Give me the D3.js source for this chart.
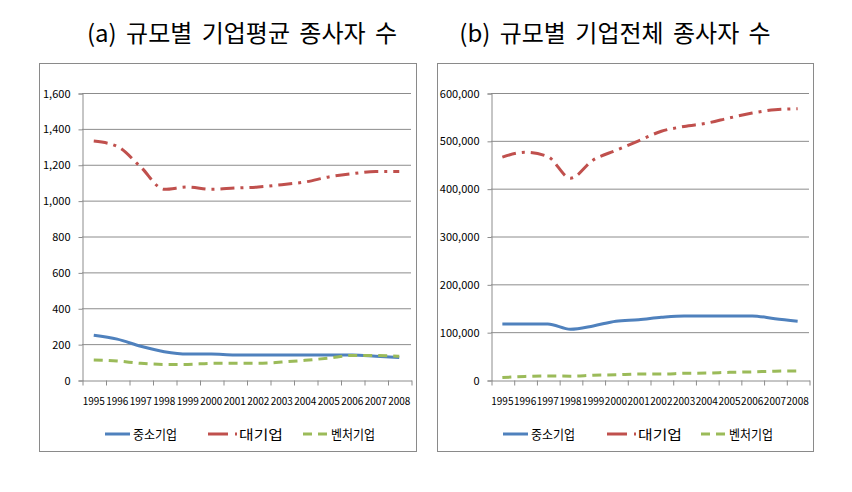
<!DOCTYPE html>
<html><head><meta charset="utf-8">
<script src="https://cdn.jsdelivr.net/npm/d3@7"></script>
<style>
html,body{margin:0;padding:0;background:#fff;}
svg{display:block;}
</style></head>
<body>
<svg id="chart" width="852" height="492"></svg>
<script>
const years = ["1995","1996","1997","1998","1999","2000","2001","2002","2003","2004","2005","2006","2007","2008"];
const seriesNames = ["중소기업", "대기업", "벤처기업"];

// (a) 규모별 기업평균 종사자 수
const avgSME     = [250, 228, 188, 158, 145, 145, 140, 140, 140, 140, 140, 140, 133, 125];
const avgLarge   = [1332, 1302, 1187, 1063, 1076, 1063, 1070, 1076, 1089, 1104, 1132, 1150, 1163, 1163];
const avgVenture = [112, 106, 93, 87, 87, 93, 93, 93, 100, 110, 122, 137, 137, 132];
const avgTicks   = [0, 200, 400, 600, 800, 1000, 1200, 1400, 1600];

// (b) 규모별 기업전체 종사자 수
const totSME     = [117000, 117000, 117000, 106000, 113000, 123000, 126000, 131000, 134000, 134000, 134000, 134000, 128000, 123000];
const totLarge   = [466000, 476000, 467000, 422000, 460000, 480000, 500000, 520000, 530000, 537000, 548000, 558000, 565000, 567000];
const totVenture = [5000, 7500, 8500, 8000, 10000, 11000, 12500, 12500, 14000, 14500, 16000, 17000, 18500, 19000];
const totTicks   = [0, 100000, 200000, 300000, 400000, 500000, 600000];

const titles = ["(a) 규모별 기업평균 종사자 수", "(b) 규모별 기업전체 종사자 수"];

const colors = ["#4F81BD", "#C0504D", "#9BBB59"];
const dashes = [null, "14,6,3,6", "9,6"];
const legendDashes = [null, "20,7,2,30", "9,6"];

const svg = d3.select("#chart");
const FONT = "'Noto Sans CJK KR', 'Noto Sans', sans-serif";

function panel(cfg) {
  const g = svg.append("g");
  g.append("rect").attr("x", cfg.bx).attr("y", cfg.by).attr("width", cfg.bw).attr("height", cfg.bh)
    .attr("fill", "#fff").attr("stroke", "#8a8a8a").attr("stroke-width", 1);

  g.append("text").attr("x", cfg.tx).attr("y", 42).attr("text-anchor", "middle")
    .attr("font-family", FONT).attr("font-size", 24).attr("word-spacing", "4px")
    .attr("fill", "#000").text(cfg.title);

  const x = d3.scaleBand().domain(years).range([cfg.x0, cfg.x1]).padding(0);
  const xi = d3.scaleLinear().domain([0, years.length]).range([cfg.x0, cfg.x1]);
  const y = d3.scaleLinear().domain([0, d3.max(cfg.ticks)]).range([380, 93]);

  // gridlines
  g.append("g").selectAll("line").data(cfg.ticks.filter(d => d > 0)).join("line")
    .attr("x1", cfg.x0).attr("x2", cfg.x1).attr("y1", d => y(d) + 0.5).attr("y2", d => y(d) + 0.5)
    .attr("stroke", "#8c8c8c").attr("stroke-width", 1);

  // y axis
  const ya = g.append("g").attr("transform", `translate(${cfg.x0 + 0.5},0.5)`)
    .call(d3.axisLeft(y).tickValues(cfg.ticks).tickFormat(d3.format(",")).tickSize(4).tickPadding(8));
  ya.select(".domain").attr("stroke", "#8c8c8c");
  ya.selectAll(".tick line").attr("stroke", "#8c8c8c");
  ya.selectAll("text").attr("font-family", FONT).attr("font-size", 11).attr("fill", "#000");

  // x axis boundary ticks
  const xa = g.append("g").attr("transform", `translate(0.5,${380.5})`)
    .call(d3.axisBottom(xi).tickValues(d3.range(years.length + 1)).tickFormat("").tickSize(5).tickSizeOuter(0));
  xa.select(".domain").attr("stroke", "#8c8c8c");
  xa.selectAll(".tick line").attr("stroke", "#8c8c8c");

  // x labels
  const xl = g.append("g").attr("transform", `translate(0,${380})`)
    .call(d3.axisBottom(x).tickSize(0).tickPadding(18));
  xl.select(".domain").remove();
  xl.selectAll("text").attr("font-family", FONT).attr("font-size", 10).attr("fill", "#000");

  const line = d3.line().x((d, i) => x(years[i]) + x.bandwidth() / 2).y(d => y(d)).curve(d3.curveMonotoneX);

  cfg.series.forEach((s, k) => {
    g.append("path").datum(s).attr("d", line).attr("fill", "none")
      .attr("stroke", colors[k]).attr("stroke-width", 3)
      .attr("stroke-dasharray", dashes[k]);
  });

  // legend
  cfg.legend.forEach((lx, k) => {
    const lg = g.append("g").attr("transform", `translate(${lx},434)`);
    lg.append("line").attr("x1", 0).attr("x2", k === 1 ? 29 : 25).attr("y1", 0).attr("y2", 0)
      .attr("stroke", colors[k]).attr("stroke-width", 3).attr("stroke-dasharray", legendDashes[k]);
    lg.append("text").attr("x", k === 1 ? 31 : 28).attr("y", 5)
      .attr("font-family", FONT).attr("font-size", 13).attr("fill", "#000")
      .attr("textLength", 44).attr("lengthAdjust", "spacingAndGlyphs")
      .text(seriesNames[k]);
  });
}

panel({bx: 39.5, by: 63.5, bw: 377, bh: 388, x0: 82, x1: 411, tx: 242, title: titles[0],
  ticks: avgTicks, series: [avgSME, avgLarge, avgVenture], legend: [105, 208, 303]});
panel({bx: 437.5, by: 63.5, bw: 376, bh: 388, x0: 491, x1: 809, tx: 615, title: titles[1],
  ticks: totTicks, series: [totSME, totLarge, totVenture], legend: [503, 607, 701]});
</script>
</body></html>
